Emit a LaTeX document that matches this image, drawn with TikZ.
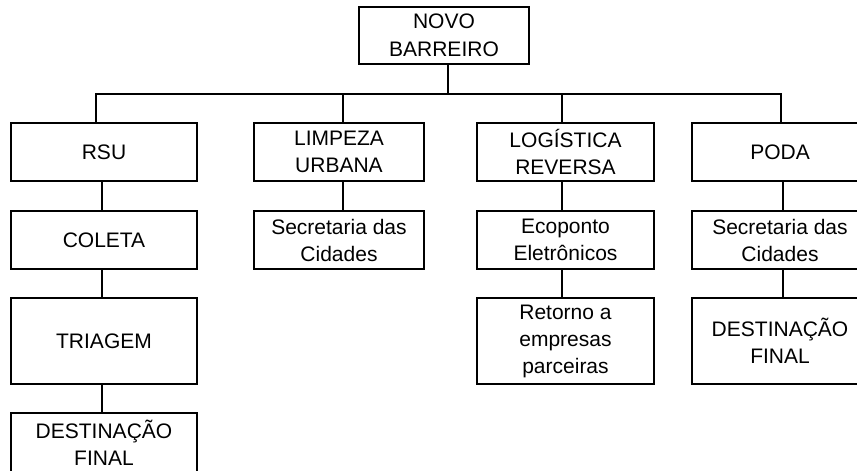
\documentclass[tikz,border=0pt]{standalone}
\usepackage{fontspec}
\setmainfont{Liberation Sans}

\tikzset{
  box/.style = {draw, line width = 1.6pt, rectangle, align = center,
                inner sep = 0pt, minimum width = #1},
  box/.default = 186,
  link/.style = {line width = 1.6pt}
}

\begin{document}
\begin{tikzpicture}[x = 1pt, y = -1pt, font = \fontsize{21}{27}\selectfont]
\useasboundingbox (0,0) rectangle (857,471);
\clip (0,0) rectangle (857,471);
% top
\node[box=170, minimum height = 57] (top) at (444,35.5) {NOVO\\[1pt]BARREIRO};
\coordinate (bus) at (448,94);
% first row
\node[box=186, minimum height = 58] (rsu) at (104,152) {RSU};
\node[box=170, minimum height = 58] (limp) at (339,152) {LIMPEZA\\URBANA};
\node[box=177, minimum height = 58] (logi) at (565.5,152) {LOGÍSTICA\\REVERSA};
\node[box=176, minimum height = 58] (poda) at (780,152) {PODA};
% RSU column
\node[box=186, minimum height = 58] (coleta) at (104,240) {COLETA};
\node[box=186, minimum height = 86] (triagem) at (104,341) {TRIAGEM};
\node[box=186, minimum height = 60] (destA) at (104,443) {DESTINAÇÃO\\FINAL};
% other columns
\node[box=170, minimum height = 58] (secA) at (339,240) {Secretaria das\\Cidades};
\node[box=177, minimum height = 58] (eco) at (565.5,240) {Ecoponto\\Eletrônicos};
\node[box=177, minimum height = 86] (ret) at (565.5,341) {Retorno a\\empresas\\parceiras};
\node[box=176, minimum height = 58] (secB) at (780,240) {Secretaria das\\Cidades};
\node[box=176, minimum height = 86] (destB) at (780,341) {DESTINAÇÃO\\FINAL};
% connectors
\draw[link] ([xshift=4]top.south) -- (bus);
\draw[link] ([xshift=-8]rsu.north) |- (bus);
\draw[link] ([xshift=1]poda.north) |- (bus);
\draw[link] ([xshift=4]limp.north) -- ([xshift=4]limp.north |- bus);
\draw[link] ([xshift=-3.5]logi.north) -- ([xshift=-3.5]logi.north |- bus);
\draw[link] ([xshift=-2]rsu.south) -- ([xshift=-2]coleta.north);
\draw[link] ([xshift=-2]coleta.south) -- ([xshift=-2]triagem.north);
\draw[link] ([xshift=-2]triagem.south) -- ([xshift=-2]destA.north);
\draw[link] ([xshift=4]limp.south) -- ([xshift=4]secA.north);
\draw[link] ([xshift=-3.5]logi.south) -- ([xshift=-3.5]eco.north);
\draw[link] ([xshift=-3.5]eco.south) -- ([xshift=-3.5]ret.north);
\draw[link] ([xshift=3]poda.south) -- ([xshift=3]secB.north);
\draw[link] ([xshift=3]secB.south) -- ([xshift=3]destB.north);
\end{tikzpicture}
\end{document}
